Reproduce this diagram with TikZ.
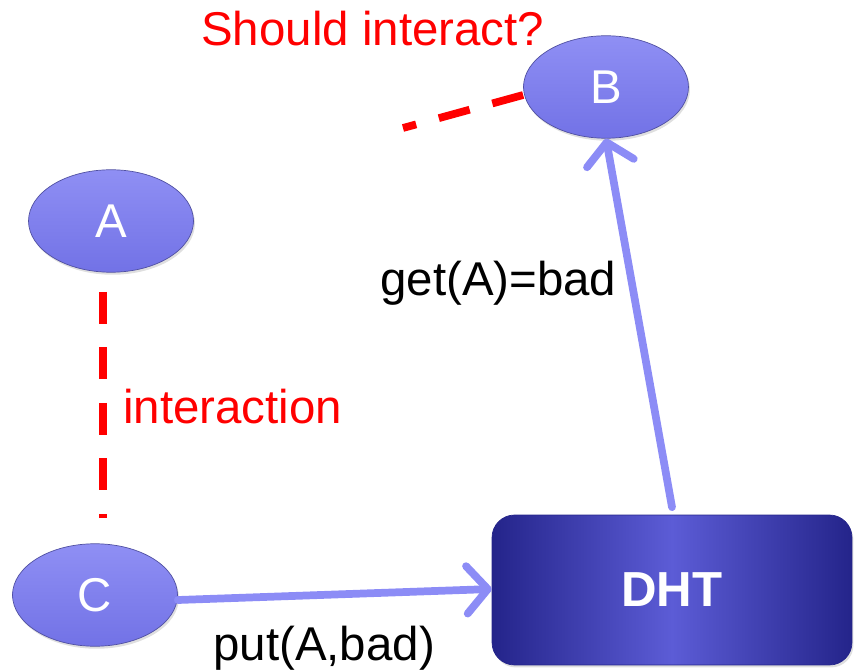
\documentclass[tikz,border=0pt]{standalone}
\usepackage{fontspec}
\setmainfont{Liberation Sans}
\usetikzlibrary{arrows.meta,shadows,shapes.geometric}
\definecolor{peertop}{HTML}{8F8FF4}
\definecolor{peerbot}{HTML}{7272E6}
\definecolor{dhtedge}{HTML}{24248A}
\definecolor{dhtmid}{HTML}{5C5CD6}
\definecolor{msg}{HTML}{8C8CF6}
\definecolor{alert}{HTML}{FF0000}
\begin{document}
\begin{tikzpicture}[x=0.02cm,y=-0.02cm,
    peernode/.style={ellipse,minimum width=3.3cm,minimum height=2.05cm,inner sep=0pt,
      top color=peertop,bottom color=peerbot,draw=peerbot!70!black,line width=0.4pt,
      drop shadow={opacity=0.25,shadow xshift=0.03cm,shadow yshift=-0.05cm},
      text=white,font=\fontsize{27}{32}\selectfont},
    dhtnode/.style={rectangle,rounded corners=0.45cm,minimum width=7.2cm,minimum height=3cm,
      inner sep=0pt,left color=dhtedge,right color=dhtedge,middle color=dhtmid,draw=dhtedge,
      drop shadow={opacity=0.25,shadow xshift=0.03cm,shadow yshift=-0.05cm},
      text=white,font=\fontsize{28}{33}\selectfont\bfseries},
    msgarrow/.style={draw=msg,line width=4.4pt,line cap=round,
      -{Straight Barb[length=0.42cm,width=0.95cm,line width=4.4pt,round]}},
    relation/.style={draw=alert,line width=4.4pt,dash pattern=on 0.64cm off 0.47cm},
    lbl/.style={font=\fontsize{27}{32}\selectfont,inner sep=0pt}]
  \useasboundingbox (0,0) rectangle (854,671);
  % peers and the table
  \node[peernode] (B) at (606,87) {B};
  \node[peernode] (A) at (111,221) {A};
  \node[peernode] (C) at (95,595) {C};
  \node[dhtnode] (dht) at (672,590) {DHT};
  % the interaction between A and C
  \coordinate (atop) at (103,292);
  \coordinate (abot) at (103,518);
  \draw[relation] (atop) -- (abot);
  \node[lbl,alert,anchor=base west] (inter) at (123,423) {interaction};
  % B wonders whether to go on
  \coordinate (bend) at (403,128);
  \draw[relation] (B.west) ++(0,8) -- (bend);
  \node[lbl,alert,anchor=base west] (ask) at (201,46) {Should interact?};
  % messages to and from the table
  \draw[msgarrow] (C.east) ++(0,5) -- ([yshift=0.02cm]dht.west);
  \node[lbl,anchor=base west] (put) at (213,660) {put(A,bad)};
  \draw[msgarrow] ([yshift=0.15cm]dht.north) -- (B.south);
  \node[lbl,anchor=base west] (get) at (380,296) {get(A)=bad};
\end{tikzpicture}
\end{document}
